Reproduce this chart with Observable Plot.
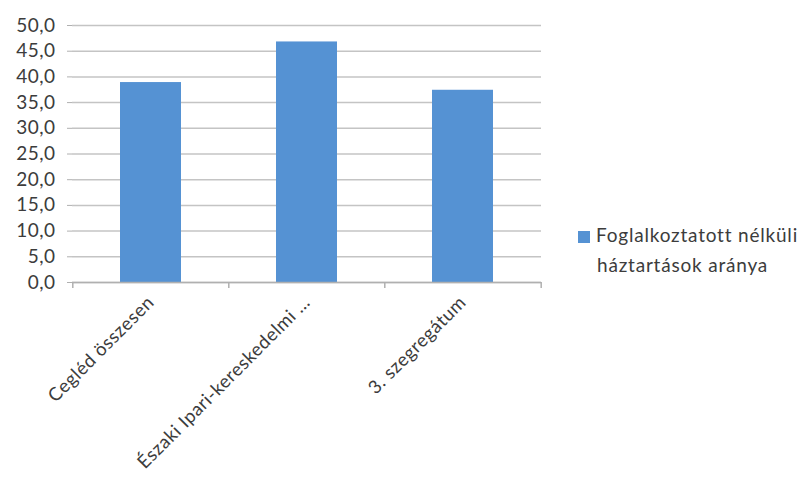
<!DOCTYPE html>
<html><head><meta charset="utf-8">
<script src="https://cdn.jsdelivr.net/npm/d3@7"></script>
<script src="https://cdn.jsdelivr.net/npm/@observablehq/plot@0.6"></script>
<style>
body{margin:0;background:#fff;}
#wrap{position:relative;width:809px;height:477px;font-family:Lato,"Open Sans",sans-serif;overflow:hidden;}
#wrap svg text{letter-spacing:0.5px;}
#legend{position:absolute;left:578px;top:220px;font-size:19px;color:#3c3c3c;line-height:30px;letter-spacing:0.8px;white-space:nowrap;}
#legend .sw{display:inline-block;width:12px;height:12px;background:#5592d3;margin-right:6px;vertical-align:-1px;}
</style></head>
<body><div id="wrap"><div id="legend"><span class="sw"></span>Foglalkoztatott nélküli<br><span style="padding-left:19px">háztartások aránya</span></div></div>
<script>
const categories = ["Cegléd összesen", "Északi Ipari-kereskedelmi …", "3. szegregátum"];
const values = [38.9, 46.8, 37.4];
const seriesName = "Foglalkoztatott nélküli háztartások aránya";
const yTicks = [0,5,10,15,20,25,30,35,40,45,50];

const data = categories.map((c,i)=>({cat:c, v:values[i]}));
const fmt = d => d.toFixed(1).replace(".", ",");
const chart = Plot.plot({
  width: 809, height: 477,
  marginLeft: 72, marginRight: 268, marginTop: 25, marginBottom: 195,
  style: {fontFamily: "Lato, 'Open Sans', sans-serif", fontSize: "19px", color: "#3c3c3c", background: "transparent"},
  x: {domain: categories, paddingInner: 0.61, paddingOuter: 0.305, label: null},
  y: {domain: [0,50], label: null},
  marks: [
    Plot.gridY(yTicks, {stroke: "#c4c4c4", strokeOpacity: 1, strokeWidth: 1.5}),
    Plot.axisY(yTicks, {tickFormat: fmt, tickSize: 5, tickPadding: 12, stroke: "#b0b0b0", fontSize: 19, fill: "#3c3c3c", label: null}),
    Plot.ruleX([0], {x: () => 0, y1: 0, y2: 50, stroke: "none"}),
    Plot.barY(data, {x: "cat", y: "v", fill: "#5592d3"}),
    Plot.ruleY([0], {stroke: "#b0b0b0", strokeWidth: 1.5}),
    Plot.axisX({tickRotate: -45, tickSize: 0, tickPadding: 17, fontSize: 18.5, fill: "#3c3c3c", label: null}),
    Plot.ruleX(categories, {x: d => d, y1: 0, y2: 0, insetBottom: -6, dx: -78.2, stroke: "#b0b0b0", strokeWidth: 1.5}),
    Plot.ruleX([categories[categories.length-1]], {x: d => d, y1: 0, y2: 0, insetBottom: -6, dx: 78.2, stroke: "#b0b0b0", strokeWidth: 1.5})
  ]
});
document.getElementById("wrap").prepend(chart);
chart.style.position = "absolute"; chart.style.left = "0"; chart.style.top = "0";
</script></body></html>
